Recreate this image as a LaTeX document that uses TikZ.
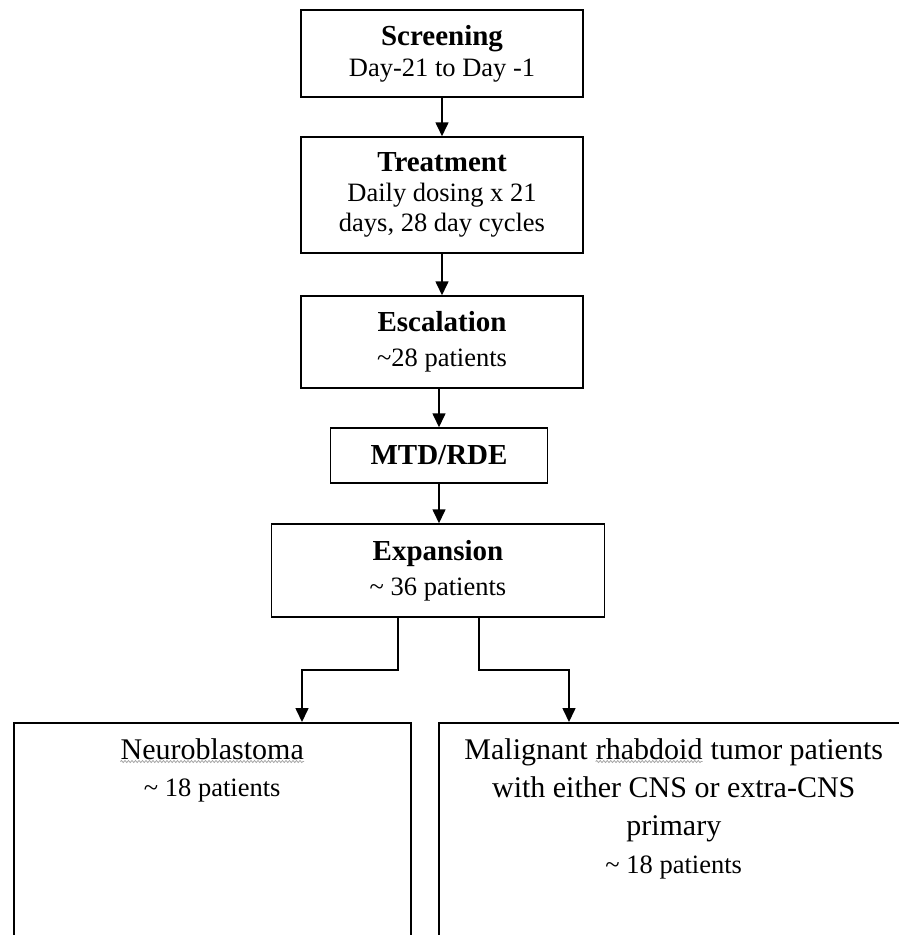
\documentclass[tikz,border=0pt]{standalone}
\usepackage{fontspec}
\setmainfont{Liberation Serif}
\usetikzlibrary{arrows.meta, decorations.pathmorphing}
\tikzset{
    stage/.style={draw, line width=1.5pt, rectangle, align=center, inner sep=0pt},
    flow/.style={-{Triangle[length=14pt,width=13pt]}, line width=1.6pt},
    body/.style={font=\fontsize{26.5}{#1}\selectfont},
    squiggle/.style={gray!70, line width=0.8pt, decorate, decoration={snake, amplitude=1pt, segment length=3.5pt}},
}
\newcommand{\head}[1]{{\fontsize{29}{31}\selectfont\bfseries #1}}
\newcommand{\squig}[1]{\tikz[baseline=(word.base)]{\node[inner sep=0pt] (word) {#1};
    \draw[squiggle] ([yshift=-2pt]word.south west) -- ([yshift=-2pt]word.south east);}}
\begin{document}
\begin{tikzpicture}[x=1pt, y=-1pt]
    \useasboundingbox (0,0) rectangle (899,935);
    \clip (0,0) rectangle (899,935);
    \node[stage, body=31, minimum width=282, minimum height=87] (screen) at (442,53.5)
        {\head{Screening}\\Day-21 to Day -1};
    \node[stage, body=30, minimum width=282, minimum height=116] (treat) at (442,195)
        {\head{Treatment}\\Daily dosing x 21\\days, 28 day cycles};
    \node[stage, body=35, minimum width=282, minimum height=92] (escal) at (442,342)
        {\head{Escalation}\\\textasciitilde28 patients};
    \node[stage, body=31, minimum width=217, minimum height=55] (mtd) at (439,455.5)
        {\head{MTD/RDE}};
    \node[stage, body=35, minimum width=333, minimum height=93] (expan) at (438,570.5)
        {\head{Expansion}\\\textasciitilde\ 36 patients};
    \node[stage, anchor=north west, minimum width=397, minimum height=300] (neuro) at (13,722) {};
    \node[stage, anchor=north west, minimum width=470, minimum height=300] (mrt) at (438,722) {};
    \node[anchor=north, align=center, inner sep=0pt, font=\fontsize{30}{37}\selectfont] (neurotext)
        at ([yshift=-16pt]neuro.north)
        {\squig{Neuroblastoma}\\{\fontsize{26.5}{37}\selectfont\textasciitilde\ 18 patients}};
    \node[anchor=north, align=center, inner sep=0pt, font=\fontsize{30}{38}\selectfont] (mrttext)
        at ([yshift=-16pt]mrt.north)
        {Malignant \squig{rhabdoid} tumor patients\\with either CNS or extra-CNS\\primary\\
         {\fontsize{26.5}{38}\selectfont\textasciitilde\ 18 patients}};
    \coordinate (splitL) at (398,670);
    \coordinate (splitR) at (479,670);
    \coordinate (neuroin) at (302,722);
    \coordinate (mrtin) at (569,722);
    \draw[flow] (screen.south) -- (treat.north);
    \draw[flow] (treat.south) -- (escal.north);
    \draw[flow] (escal.south -| mtd.north) -- (mtd.north);
    \draw[flow] (mtd.south) -- (mtd.south |- expan.north);
    \draw[flow] (splitL |- expan.south) -- (splitL) -| (neuroin);
    \draw[flow] (splitR |- expan.south) -- (splitR) -| (mrtin);
\end{tikzpicture}
\end{document}
